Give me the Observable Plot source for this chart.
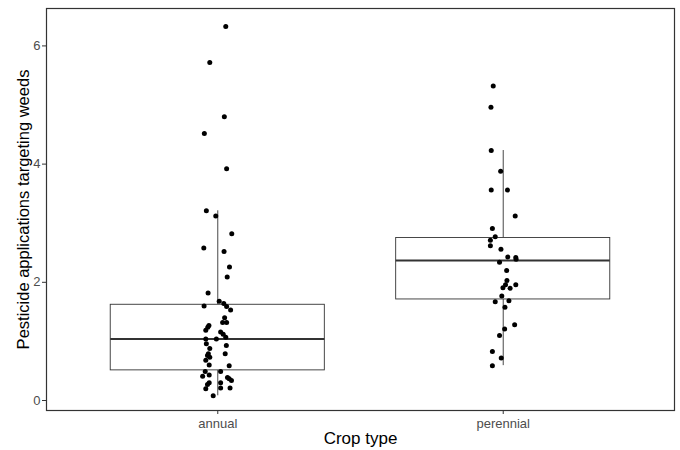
<!DOCTYPE html>
<html>
<head>
<meta charset="utf-8">
<script src="https://cdn.jsdelivr.net/npm/d3@7"></script>
<script src="https://cdn.jsdelivr.net/npm/@observablehq/plot@0.6"></script>
<style>
  html, body { margin: 0; padding: 0; background: #fff; }
  #chart svg { display: block; }
</style>
</head>
<body>
<div id="chart"></div>
<script>
const categories = ["annual", "perennial"];
const yTicks = [0, 2, 4, 6];
const xLabel = "Crop type";
const yLabel = "Pesticide applications targeting weeds";

// jittered observations (value, horizontal jitter in category units)
const annualValues = [6.33,5.72,4.80,4.52,3.92,3.21,3.12,2.82,2.58,2.52,2.26,2.09,1.82,1.68,1.64,1.60,1.59,1.53,1.40,1.32,1.32,1.27,1.24,1.19,1.16,1.12,1.07,1.04,1.04,0.96,0.93,0.88,0.79,0.79,0.76,0.73,0.68,0.60,0.59,0.49,0.49,0.43,0.41,0.39,0.37,0.34,0.30,0.27,0.20,0.30,0.21,0.21,0.08];
const annualJitter = [0.028,-0.028,0.023,-0.047,0.031,-0.040,-0.007,0.049,-0.049,0.022,0.041,0.033,-0.034,0.005,0.021,-0.048,0.031,0.045,0.024,0.017,0.031,-0.031,-0.035,-0.042,0.010,0.019,0.028,-0.042,-0.005,-0.040,0.030,-0.028,0.026,-0.033,-0.036,-0.028,-0.042,-0.030,0.040,-0.044,0.010,-0.030,-0.053,0.034,0.040,0.048,-0.030,-0.036,-0.042,0.010,0.010,0.043,-0.016];
const perennialValues = [5.32,4.96,4.23,3.88,3.56,3.56,3.12,2.91,2.77,2.71,2.62,2.56,2.43,2.42,2.39,2.34,2.20,2.03,1.96,1.91,1.90,1.96,1.77,1.67,1.69,1.58,1.28,1.21,1.10,0.83,0.72,0.59];
const perennialJitter = [-0.035,-0.043,-0.042,-0.009,-0.042,0.015,0.042,-0.038,-0.028,-0.045,-0.045,-0.008,0.016,0.044,0.045,-0.013,0.012,0.013,0.008,-0.001,0.024,0.044,-0.005,-0.028,0.020,0.006,0.040,0.005,-0.013,-0.038,-0.007,-0.038];

// box statistics per category
const boxQ1 = [0.51, 1.71];
const boxMedian = [1.04, 2.37];
const boxQ3 = [1.62, 2.75];
const whiskerLow = [0.08, 0.59];
const whiskerHigh = [3.21, 4.23];

const points = [
  ...annualValues.map((v, i) => ({cat: 1, value: v, jitter: annualJitter[i]})),
  ...perennialValues.map((v, i) => ({cat: 2, value: v, jitter: perennialJitter[i]}))
];
const boxes = categories.map((c, i) => ({
  cat: i + 1, q1: boxQ1[i], med: boxMedian[i], q3: boxQ3[i], lo: whiskerLow[i], hi: whiskerHigh[i]
}));
const halfWidth = 0.375;

const chart = Plot.plot({
  width: 680,
  height: 450,
  marginLeft: 46,
  marginRight: 6,
  marginTop: 8,
  marginBottom: 40,
  style: {fontFamily: "'Liberation Sans', Arial, sans-serif", background: "#fff"},
  x: {domain: [0.4, 2.6], axis: null},
  y: {domain: [-0.169, 6.633], axis: null},
  marks: [
    Plot.ruleX(boxes, {x: "cat", y1: "q3", y2: "hi", stroke: "#333", strokeWidth: 0.9}),
    Plot.ruleX(boxes, {x: "cat", y1: "q1", y2: "lo", stroke: "#333", strokeWidth: 0.9}),
    Plot.rect(boxes, {x1: d => d.cat - halfWidth, x2: d => d.cat + halfWidth, y1: "q1", y2: "q3", fill: "#fff", stroke: "#333", strokeWidth: 0.9}),
    Plot.ruleY(boxes, {y: "med", x1: d => d.cat - halfWidth, x2: d => d.cat + halfWidth, stroke: "#333", strokeWidth: 2}),
    Plot.dot(points, {x: d => d.cat + d.jitter, y: "value", r: 2.5, fill: "#000", stroke: "none"}),
    Plot.frame({stroke: "#333", strokeWidth: 1.2}),
    Plot.axisY({ticks: yTicks, tickFormat: d => String(d), tickSize: 4, tickPadding: 2, fontSize: 13, stroke: "#333", fill: "#4d4d4d", label: null}),
    Plot.axisX({ticks: [1, 2], tickFormat: d => categories[d - 1], tickSize: 4, tickPadding: 4, fontSize: 13, stroke: "#333", fill: "#4d4d4d", label: null}),
    Plot.text([yLabel], {frameAnchor: "left", dx: -23, rotate: -90, textAnchor: "middle", fontSize: 16.5, fill: "#000", text: d => d}),
    Plot.text([xLabel], {frameAnchor: "bottom", dy: 33, textAnchor: "middle", fontSize: 17, fill: "#000", text: d => d})
  ]
});
document.getElementById("chart").appendChild(chart);
</script>
</body>
</html>
